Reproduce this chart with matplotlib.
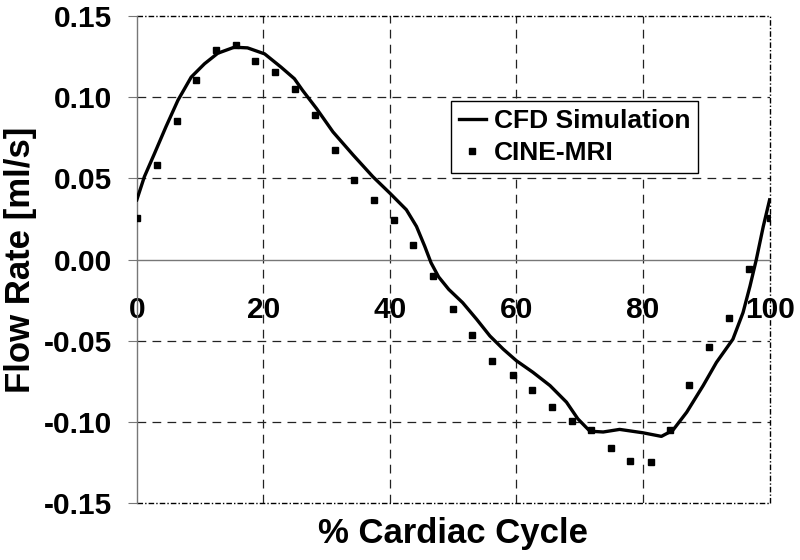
import matplotlib.pyplot as plt

plt.rcParams["font.family"] = ["Liberation Sans", "DejaVu Sans"]
plt.rcParams["font.weight"] = "bold"

# CFD simulation curve
cfd_x = [0, 1.2, 2.8, 4.6, 6.5, 8.6, 10.7, 12.8, 15.4, 17.5, 20.2, 22.8, 24.9,
         26.2, 28.4, 31.0, 34.2, 37.3, 40.0, 42.6, 44.2, 45.5, 46.5, 47.7, 49.3,
         51.5, 53.7, 55.8, 57.9, 60.0, 62.6, 65.3, 67.9, 69.7, 71.6, 73.7, 76.3,
         80.0, 82.9, 84.7, 86.9, 89.5, 91.6, 94.2, 95.8, 96.9, 97.9, 99.0, 100]
cfd_y = [0.0368, 0.0511, 0.0654, 0.0818, 0.0982, 0.1125, 0.1207, 0.1272, 0.1309,
         0.1305, 0.1268, 0.1186, 0.1115, 0.1043, 0.0931, 0.0787, 0.0644, 0.0511,
         0.0409, 0.0307, 0.0204, 0.0082, -0.0020, -0.0107, -0.0184, -0.0266,
         -0.0368, -0.0471, -0.0552, -0.0624, -0.0695, -0.0777, -0.0879, -0.0982,
         -0.1058, -0.1063, -0.1047, -0.1068, -0.1090, -0.1053, -0.0941, -0.0777,
         -0.0634, -0.0491, -0.0327, -0.0164, 0.0, 0.0204, 0.0368]

# CINE-MRI measurements
mri_x = [0, 3.2, 6.3, 9.4, 12.5, 15.7, 18.7, 21.8, 25.0, 28.1, 31.3, 34.4, 37.5,
         40.6, 43.7, 46.8, 49.9, 53.0, 56.2, 59.4, 62.5, 65.6, 68.7, 71.8, 74.9,
         78.0, 81.2, 84.2, 87.3, 90.5, 93.6, 96.8, 100]
mri_y = [0.0256, 0.0583, 0.0855, 0.1106, 0.1293, 0.1323, 0.1227, 0.1155, 0.1053,
         0.0890, 0.0673, 0.0489, 0.0370, 0.0245, 0.0092, -0.0102, -0.0307, -0.0462,
         -0.0624, -0.0712, -0.0802, -0.0906, -0.0994, -0.1049, -0.1160, -0.1239,
         -0.1250, -0.1049, -0.0773, -0.0536, -0.0360, -0.0061, 0.0256]

x_ticks = [0, 20, 40, 60, 80, 100]
y_ticks = [-0.15, -0.10, -0.05, 0.00, 0.05, 0.10, 0.15]

fig = plt.figure(figsize=(8, 5.6), dpi=100)
ax = fig.add_axes([0.171, 0.102, 0.791, 0.869])

ax.set_xlim(0, 100)
ax.set_ylim(-0.15, 0.15)

grid_style = dict(color="#222222", lw=0.9, ls=(0, (7, 5)), zorder=1)
for xv in x_ticks[1:-1]:
    ax.axvline(xv, **grid_style)
for yv in y_ticks[1:-1]:
    if yv != 0:
        ax.axhline(yv, **grid_style)
border = dict(color="black", lw=1.0, ls=(0, (4, 1.5, 1, 1.5)), zorder=1, clip_on=False)
ax.axhline(0.15, **border)
ax.axhline(-0.15, **border)
ax.axvline(100, **border)

ax.plot(cfd_x, cfd_y, color="black", lw=2.4, label="CFD Simulation", zorder=3,
        solid_joinstyle="round")
ax.plot(mri_x, mri_y, ls="none", marker="s", ms=5, color="black",
        label="CINE-MRI", zorder=4)

for s in ["top", "right"]:
    ax.spines[s].set_visible(False)
ax.spines["bottom"].set_position(("data", 0))
ax.spines["bottom"].set_color("#777777")
ax.spines["left"].set_color("#777777")
ax.spines["bottom"].set_linewidth(1.0)
ax.spines["left"].set_linewidth(1.0)

ax.set_xticks(x_ticks)
ax.set_xticklabels([str(v) for v in x_ticks])
ax.set_yticks(y_ticks)
ax.set_yticklabels([f"{v:.2f}" for v in y_ticks])
ax.tick_params(axis="x", length=0, pad=26, labelsize=21.5)
ax.tick_params(axis="y", length=6.5, direction="out", color="#777777", pad=11,
               labelsize=21.5)

ax.set_xlabel("% Cardiac Cycle", fontsize=25, fontweight="bold", va="center")
ax.xaxis.set_label_coords(0.5, -0.062)
ax.set_ylabel("Flow Rate [ml/s]", fontsize=25, fontweight="bold", va="center")
ax.yaxis.set_label_coords(-0.183, 0.5)

leg = ax.legend(loc="upper left", bbox_to_anchor=(0.497, 0.825), fontsize=19,
                frameon=True, fancybox=False, handlelength=1.0, handletextpad=0.3,
                borderpad=0.3, labelspacing=0.3, borderaxespad=0)
leg.get_frame().set_edgecolor("black")
leg.get_frame().set_linewidth(1.0)
leg.get_frame().set_alpha(1)

fig.savefig("out.png", dpi=100)
